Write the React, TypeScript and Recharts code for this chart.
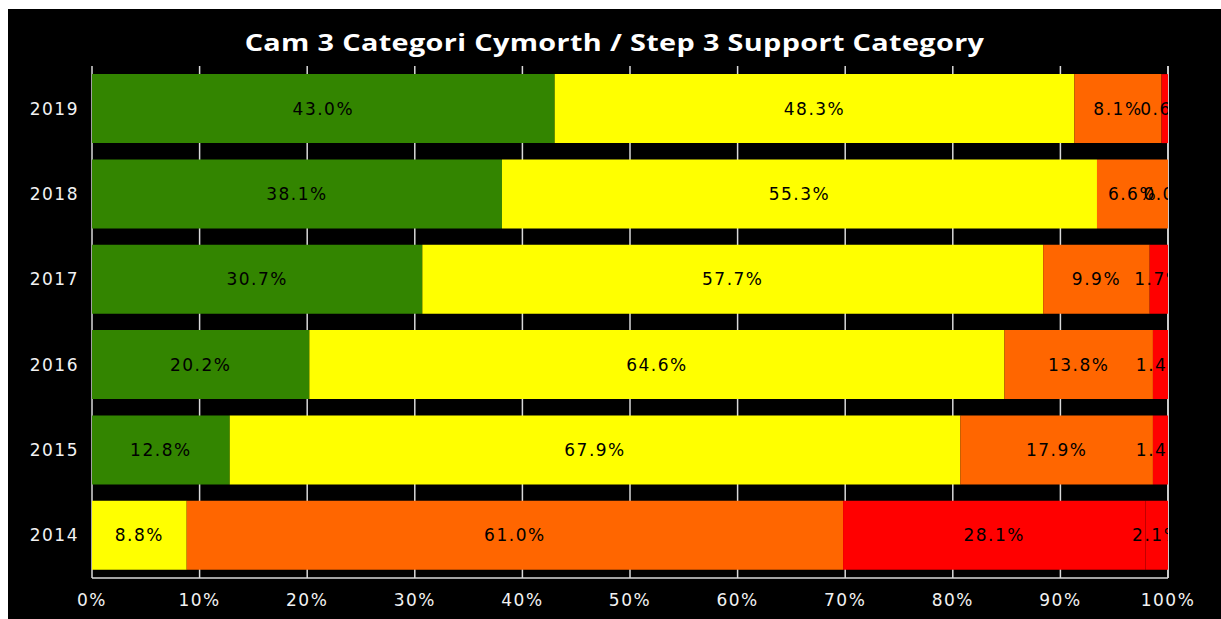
import React from "react";
import { BarChart, Bar, XAxis, YAxis, CartesianGrid, LabelList } from "recharts";

const years = ["2019", "2018", "2017", "2016", "2015", "2014"];
const greenVals: (number | null)[] = [43.0, 38.1, 30.7, 20.2, 12.8, null];
const yellowVals: (number | null)[] = [48.3, 55.3, 57.7, 64.6, 67.9, 8.8];
const amberVals: (number | null)[] = [8.1, 6.6, 9.9, 13.8, 17.9, 61.0];
const redVals: (number | null)[] = [0.6, 0.0, 1.7, 1.4, 1.4, 28.1];
const red2Vals: (number | null)[] = [null, null, null, null, null, 2.1];
const xTicks = [0, 10, 20, 30, 40, 50, 60, 70, 80, 90, 100];
const title = "Cam 3 Categori Cymorth / Step 3 Support Category";

const data = years.map((y, i) => ({
  year: y,
  green: greenVals[i],
  yellow: yellowVals[i],
  amber: amberVals[i],
  red: redVals[i],
  red2: red2Vals[i],
}));

const W = 1213;
const H = 610;
const M = { top: 57, right: 53, left: 0, bottom: 0 };
const Y_W = 84;
const X_H = 41;
const PL = M.left + Y_W;
const PR = W - M.right;

const labelFont = { fontFamily: "'DejaVu Sans', Verdana, sans-serif", fontSize: 17, letterSpacing: 1.5 };

const renderLabel = (props: any) => {
  const { x, y, width, height, value } = props;
  if (value === null || value === undefined) return null;
  const cx = Number(x) + Number(width) / 2;
  const cy = Number(y) + Number(height) / 2;
  return (
    <svg x={PL} y={0} width={PR - PL} height={H} overflow="hidden">
      <text
        x={cx - PL}
        y={cy}
        textAnchor="middle"
        dominantBaseline="central"
        fill="#000000"
        style={labelFont}
      >
        {Number(value).toFixed(1) + "%"}
      </text>
    </svg>
  );
};

const series = [
  { key: "green", color: "#338500" },
  { key: "yellow", color: "#FFFF00" },
  { key: "amber", color: "#FF6600" },
  { key: "red", color: "#FF0000" },
  { key: "red2", color: "#FF0000" },
];

export default function App() {
  return (
    <div
      style={{
        position: "absolute",
        left: 8,
        top: 9,
        width: W,
        height: H,
        background: "#000000",
        overflow: "hidden",
      }}
    >
      <div
        style={{
          position: "absolute",
          left: 0,
          top: 17,
          width: W,
          textAlign: "center",
          color: "#ffffff",
          fontFamily: "'Open Sans', sans-serif",
          fontWeight: 700,
          fontSize: 24,
          letterSpacing: 0.3,
          lineHeight: "32px",
          transform: "scaleX(1.2)",
          transformOrigin: "50% 50%",
        }}
      >
        {title}
      </div>
      <BarChart
        width={W}
        height={H}
        data={data}
        layout="vertical"
        margin={M}
        barCategoryGap="9.5%"
      >
        <CartesianGrid horizontal={false} vertical={true} stroke="#d9d9d9" strokeWidth={1.5} />
        <XAxis
          type="number"
          domain={[0, 100]}
          ticks={xTicks}
          tickFormatter={(v: number) => v + "%"}
          height={X_H}
          tickLine={false}
          axisLine={{ stroke: "#d9d9d9", strokeWidth: 1.5 }}
          tick={{ fill: "#f2f2f2", ...labelFont }}
          tickMargin={10}
          interval={0}
        />
        <YAxis
          type="category"
          dataKey="year"
          width={Y_W}
          tickLine={false}
          axisLine={false}
          tick={{ fill: "#f2f2f2", ...labelFont }}
          tickMargin={7}
        />
        {series.map((s) => (
          <Bar
            key={s.key}
            dataKey={s.key}
            stackId="a"
            fill={s.color}
            minPointSize={s.key === "red" ? 0.01 : 0}
            isAnimationActive={false}
          >
            <LabelList dataKey={s.key} content={renderLabel} />
          </Bar>
        ))}
      </BarChart>
    </div>
  );
}
